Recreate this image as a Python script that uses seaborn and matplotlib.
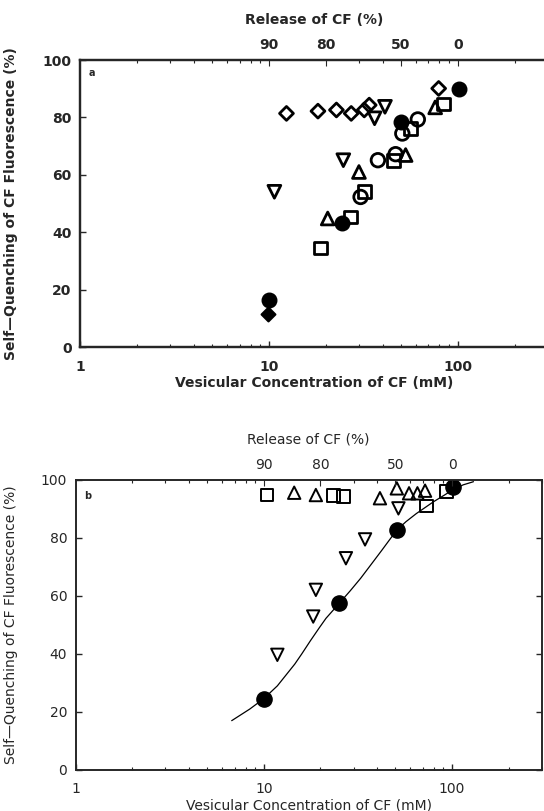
import numpy as np
import seaborn as sns
import matplotlib
matplotlib.use("Agg")
from matplotlib import pyplot as plt
from matplotlib.ticker import FixedLocator, LogLocator, NullFormatter

sns.set_style("ticks")
plt.rcParams['font.family'] = ['DejaVu Sans']

# panel a data (vesicular CF in mM, self-quenching in %)
a_filled_circle_c = [10.0, 24.3, 49.8, 101.0]
a_filled_circle_q = [16.3, 43.3, 78.5, 89.8]
a_open_circle_c = [30.6, 37.8, 46.9, 50.9, 61.5]
a_open_circle_q = [52.3, 65.1, 67.2, 74.4, 79.3]
a_square_c = [18.8, 27.0, 32.0, 45.8, 56.5, 83.7]
a_square_q = [34.5, 45.3, 54.3, 65.1, 76.2, 84.7]
a_up_c = [20.5, 30.0, 53.0, 76.0]
a_up_q = [44.8, 61.0, 66.9, 83.5]
a_down_c = [10.7, 24.8, 36.3, 41.2]
a_down_q = [54.1, 65.1, 79.7, 83.7]
a_diamond_c = [12.4, 18.2, 22.8, 27.3, 32.0, 34.0, 79.3]
a_diamond_q = [81.4, 82.2, 82.6, 81.4, 82.6, 84.3, 90.1]
a_filled_diamond_c = [9.9]
a_filled_diamond_q = [11.4]

# panel b data
b_filled_circle_c = [10.0, 25.2, 50.7, 100.9]
b_filled_circle_q = [24.4, 57.5, 82.8, 97.5]
b_square_c = [10.4, 23.4, 26.5, 73.4, 93.7]
b_square_q = [94.8, 94.5, 94.2, 91.0, 96.0]
b_up_c = [14.5, 18.9, 41.4, 50.9, 59.1, 65.5, 71.9]
b_up_q = [95.6, 94.8, 93.7, 97.1, 95.4, 95.4, 96.3]
b_down_c = [11.8, 18.3, 18.9, 27.3, 34.5, 51.9]
b_down_q = [39.7, 52.9, 62.1, 73.0, 79.5, 90.2]
# fitted curve, points
b_curve_c = [6.75, 8.42, 10.0, 11.8, 14.6, 15.9, 17.7, 19.7, 21.4, 25.2,
             28.8, 32.7, 37.2, 42.3, 46.0, 50.7, 56.9, 64.6, 79.8, 90.7, 100.9,
             114.5, 130.0]
b_curve_q = [17.0, 21.0, 24.6, 29.0, 36.5, 40.0, 44.6, 49.0, 52.3, 57.5,
             61.8, 66.1, 70.9, 75.7, 78.9, 82.6, 85.6, 88.4, 92.5, 94.7, 96.6,
             98.3, 99.4]

release_pos = [10, 20, 50, 100]
release_lbl = ['90', '80', '50', '0']

fig = plt.figure(figsize=(5.44, 8.11), dpi=100)
ax_a = fig.add_axes([0.147, 0.572, 0.86, 0.354])
ax_b = fig.add_axes([0.139, 0.0506, 0.857, 0.3576])


def pts(ax, c, q, marker, size, lw, filled):
    sns.scatterplot(x=c, y=q, ax=ax, marker=marker, s=size, color='black',
                    edgecolor='black', linewidth=lw, zorder=3)
    if not filled:
        ax.collections[-1].set_facecolor('none')


def setup(ax, weight, right_ticks, ylab_x, xlab_y, letter, letter_xy):
    ax.set_xscale('log')
    ax.set_xlim(1, 300)
    ax.set_ylim(0, 100)
    ax.set_yticks([0, 20, 40, 60, 80, 100])
    ax.set_xticks([1, 10, 100])
    ax.set_xticklabels(['1', '10', '100'])
    ax.xaxis.set_minor_locator(LogLocator(base=10, subs=np.arange(2, 10)))
    ax.xaxis.set_minor_formatter(NullFormatter())
    ax.tick_params(axis='both', which='major', direction='in', length=4, width=1,
                   labelsize=10, right=right_ticks)
    ax.tick_params(axis='x', which='major', pad=9)
    ax.tick_params(axis='y', which='major', pad=6)
    ax.tick_params(axis='x', which='minor', direction='in', length=2.5, width=0.8)
    for t in ax.get_xticklabels() + ax.get_yticklabels():
        t.set_fontweight(weight)
    for s in ax.spines.values():
        s.set_linewidth(1.6 if weight == 'bold' else 1.2)
    ax.set_xlabel('Vesicular Concentration of CF (mM)', fontsize=10, fontweight=weight)
    ax.set_ylabel('Self\u2014Quenching of CF Fluorescence (%)', fontsize=10, fontweight=weight)
    ax.xaxis.set_label_coords(0.5, xlab_y)
    ax.yaxis.set_label_coords(ylab_x, 0.5)
    ax.text(letter_xy[0], letter_xy[1], letter, transform=ax.transAxes,
            fontsize=7, fontweight='bold', va='center', ha='center')

    top = ax.twiny()
    top.set_xscale('log')
    top.set_xlim(ax.get_xlim())
    top.xaxis.set_major_locator(FixedLocator(release_pos))
    top.set_xticklabels(release_lbl, fontsize=10, fontweight=weight)
    top.xaxis.set_minor_locator(LogLocator(base=10, subs=np.arange(2, 10)))
    top.xaxis.set_minor_formatter(NullFormatter())
    top.tick_params(axis='x', which='major', direction='in', length=4, pad=6)
    top.tick_params(axis='x', which='minor', direction='in', length=2.5, width=0.8)
    top.set_xlabel('Release of CF (%)', fontsize=10, fontweight=weight, labelpad=10)
    for s in top.spines.values():
        s.set_linewidth(1.6 if weight == 'bold' else 1.2)
    return top


# panel a
pts(ax_a, a_square_c, a_square_q, 's', 85, 2.0, False)
pts(ax_a, a_open_circle_c, a_open_circle_q, 'o', 95, 2.0, False)
pts(ax_a, a_up_c, a_up_q, '^', 85, 2.0, False)
pts(ax_a, a_down_c, a_down_q, 'v', 85, 2.0, False)
pts(ax_a, a_diamond_c, a_diamond_q, 'D', 50, 2.0, False)
pts(ax_a, a_filled_diamond_c, a_filled_diamond_q, 'D', 50, 1.5, True)
pts(ax_a, a_filled_circle_c, a_filled_circle_q, 'o', 110, 1.0, True)
top_a = setup(ax_a, 'bold', False, -0.132, -0.1, 'a', (0.025, 0.955))
top_a.spines['right'].set_visible(False)
ax_a.spines['right'].set_visible(False)

# panel b
sns.lineplot(x=b_curve_c, y=b_curve_q, ax=ax_b, sort=False, estimator=None,
             color='black', linewidth=0.9)
pts(ax_b, b_square_c, b_square_q, 's', 85, 1.4, False)
pts(ax_b, b_up_c, b_up_q, '^', 80, 1.4, False)
pts(ax_b, b_down_c, b_down_q, 'v', 80, 1.4, False)
pts(ax_b, b_filled_circle_c, b_filled_circle_q, 'o', 120, 1.0, True)
setup(ax_b, 'normal', True, -0.1236, -0.098, 'b', (0.025, 0.945))

fig.savefig('out.png', dpi=100)
